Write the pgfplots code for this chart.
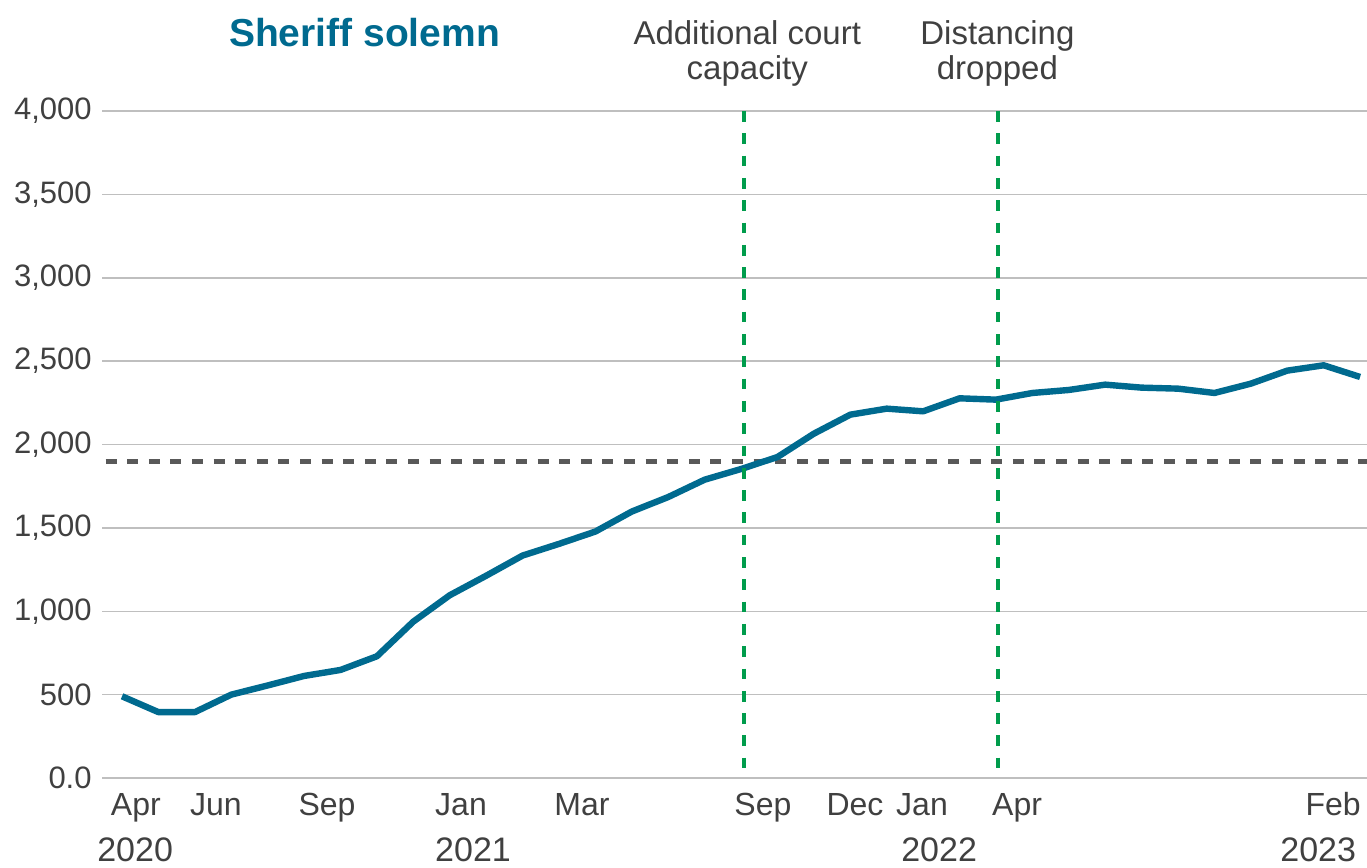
\documentclass[border=0pt]{standalone}
\usepackage{fontspec}
\setmainfont{Liberation Sans}
\usepackage{pgfplots}
\usepackage{pgfplotstable}
\pgfplotsset{compat=1.18}
\definecolor{ssteal}{RGB}{0,106,143}
\definecolor{ssgreen}{RGB}{0,156,76}
\definecolor{textgray}{RGB}{64,64,64}
\definecolor{dashgray}{RGB}{89,89,89}
\definecolor{gridgray}{RGB}{191,191,191}

\pgfplotstableread{
idx value
0 490
1 395
2 395
3 500
4 555
5 612
6 648
7 730
8 938
9 1096
10 1213
11 1334
12 1404
13 1478
14 1598
15 1685
16 1789
17 1853
18 1925
19 2065
20 2179
21 2215
22 2199
23 2277
24 2269
25 2309
26 2327
27 2359
28 2341
29 2335
30 2309
31 2365
32 2443
33 2475
34 2405
}\solemn

\begin{document}
\begin{tikzpicture}
\begin{axis}[
  scale only axis, width=632.5pt, height=333.5pt,
  xmin=-0.55, xmax=34.19, ymin=0, ymax=4000,
  axis line style={draw=none},
  tick style={draw=none},
  major tick length=0pt,
  ymajorgrids,
  grid style={color=gridgray, line width=0.75pt},
  ytick={0,500,...,4000},
  yticklabels={0.0,500,{1,000},{1,500},{2,000},{2,500},{3,000},{3,500},{4,000}},
  yticklabel style={anchor=east, inner sep=0pt, xshift=-5pt, font=\fontsize{15.5}{18}\selectfont, text=textgray},
  xtick={0.38,2.58,5.63,9.31,12.63,17.6,20.13,21.97,24.58,33.26},
  xticklabels={Apr,Jun,Sep,Jan,Mar,Sep,Dec,Jan,Apr,Feb},
  xticklabel style={anchor=base, inner sep=0pt, yshift=-18.5pt, font=\fontsize{16}{19}\selectfont, text=textgray},
  extra x ticks={0.36,9.64,22.44,32.85},
  extra x tick labels={2020,2021,2022,2023},
  extra x tick style={grid=none, xticklabel style={yshift=-23pt, font=\fontsize{17}{20}\selectfont}},
  clip=false,
]
\addplot[dashgray, line width=2.5pt, dash pattern=on 5.5pt off 5.3pt, forget plot] coordinates {(-0.45,1900) (34.19,1900)};
\addplot[ssteal, line width=3.2pt, line join=round] table[x=idx, y=value] {\solemn};
\addplot[ssgreen, line width=2.15pt, dash pattern=on 5.35pt off 5.8pt] coordinates {(17.08,4000) (17.08,0)};
\addplot[ssgreen, line width=2.15pt, dash pattern=on 5.35pt off 5.8pt] coordinates {(24.06,4000) (24.06,0)};
\node[anchor=base, font=\fontsize{19.5}{22}\selectfont\bfseries, text=ssteal, yshift=32pt] at (axis cs:6.66,4000) {Sheriff solemn};
\node[anchor=base, font=\fontsize{16.5}{19}\selectfont, text=textgray, yshift=33pt] at (axis cs:17.17,4000) {Additional court};
\node[anchor=base, font=\fontsize{16.5}{19}\selectfont, text=textgray, yshift=15.5pt] at (axis cs:17.17,4000) {capacity};
\node[anchor=base, font=\fontsize{16.5}{19}\selectfont, text=textgray, yshift=33pt] at (axis cs:24.04,4000) {Distancing};
\node[anchor=base, font=\fontsize{16.5}{19}\selectfont, text=textgray, yshift=15.5pt] at (axis cs:24.04,4000) {dropped};
\coordinate (BL) at (rel axis cs:0,0);
\coordinate (TR) at (rel axis cs:1,1);
\end{axis}
\pgfresetboundingbox
\path[use as bounding box] ([shift={(-51pt,-44.5pt)}]BL) rectangle ([shift={(0pt,55.5pt)}]TR);
\end{tikzpicture}
\end{document}
